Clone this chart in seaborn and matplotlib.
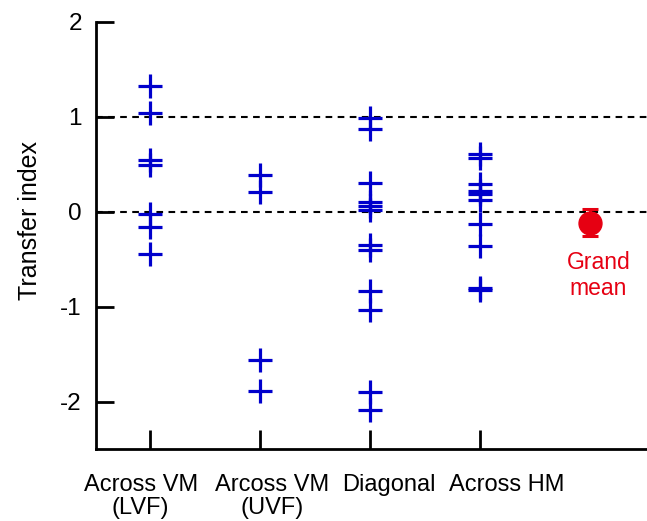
import numpy as np
import pandas as pd
import matplotlib
matplotlib.use("Agg")
import matplotlib.pyplot as plt
import matplotlib.transforms as mtransforms
import seaborn as sns

# ---- data ----
categories = ["Across VM\n(LVF)", "Arcoss VM\n(UVF)", "Diagonal", "Across HM"]
lvf = [1.32, 1.04, 0.55, 0.49, -0.02, -0.16, -0.45]
uvf = [0.39, 0.21, -1.56, -1.89]
diagonal = [0.99, 0.87, 0.30, 0.105, 0.063, 0.014, -0.35, -0.40, -0.835, -1.04, -1.90, -2.09]
across_hm = [0.61, 0.565, 0.29, 0.22, 0.19, 0.12, -0.13, -0.36, -0.80, -0.82]
grand_mean = -0.12
grand_err_low = 0.14
grand_err_high = 0.15
ref_lines = [1, 0]
yticks = [-2, -1, 0, 1, 2]

groups = [lvf, uvf, diagonal, across_hm]
df = pd.DataFrame({
    "group": np.concatenate([[c] * len(g) for c, g in zip(categories, groups)]),
    "value": np.concatenate(groups),
})

sns.set_theme(style="white", rc={"text.color": "black", "axes.labelcolor": "black",
                                 "xtick.color": "black", "ytick.color": "black"})
plt.rcParams["font.family"] = ["Liberation Sans", "DejaVu Sans"]

fig = plt.figure(figsize=(6.47, 5.21), dpi=100)
ax = fig.add_axes([0.148, 0.138, 0.852, 0.82])

blue = "#0000CC"
red = "#E60012"

for yv in ref_lines:
    ax.axhline(yv, color="black", lw=1.5, ls=(0, (3.2, 2.6)), zorder=1)

sns.stripplot(data=df, x="group", y="value", order=categories, jitter=False,
              marker="+", s=17, linewidth=2.3, color=blue, ax=ax, zorder=3)

ax.errorbar([4], [grand_mean], yerr=[[grand_err_low], [grand_err_high]],
            fmt="o", color=red, ms=16.5, elinewidth=2, capsize=6, capthick=2.2, zorder=4)
ax.text(4.08, -0.67, "Grand\nmean", color=red, fontsize=16.5, ha="center", va="center",
        linespacing=1.2)

ax.set_xlim(-0.49, 4.52)
ax.set_ylim(-2.5, 2.0)
ax.set_xticks(range(len(categories)))
ax.set_xticklabels(categories, fontsize=17, linespacing=1.08, color="black")
ax.set_yticks(yticks)
ax.set_yticklabels([str(t) for t in yticks], fontsize=17.5, color="black")
ax.set_xlabel("")
ax.set_ylabel("Transfer index", fontsize=18, color="black")
ax.yaxis.set_label_coords(-0.098, 0.536)

for side in ["top", "right"]:
    ax.spines[side].set_visible(False)
for side in ["left", "bottom"]:
    ax.spines[side].set_color("black")
    ax.spines[side].set_linewidth(2.0)

ax.tick_params(axis="y", direction="in", length=13, width=2.0, color="black", pad=10, left=True)
ax.tick_params(axis="x", direction="in", length=14, width=2.0, color="black", pad=18, bottom=True)

# labels in the reference sit slightly off their ticks (pixel shifts)
label_shift_px = [-9, 12, 19, 27]
for lab, dx in zip(ax.get_xticklabels(), label_shift_px):
    lab.set_transform(lab.get_transform() +
                      mtransforms.ScaledTranslation(dx / 100.0, 0, fig.dpi_scale_trans))

fig.savefig("out.png", dpi=100)
